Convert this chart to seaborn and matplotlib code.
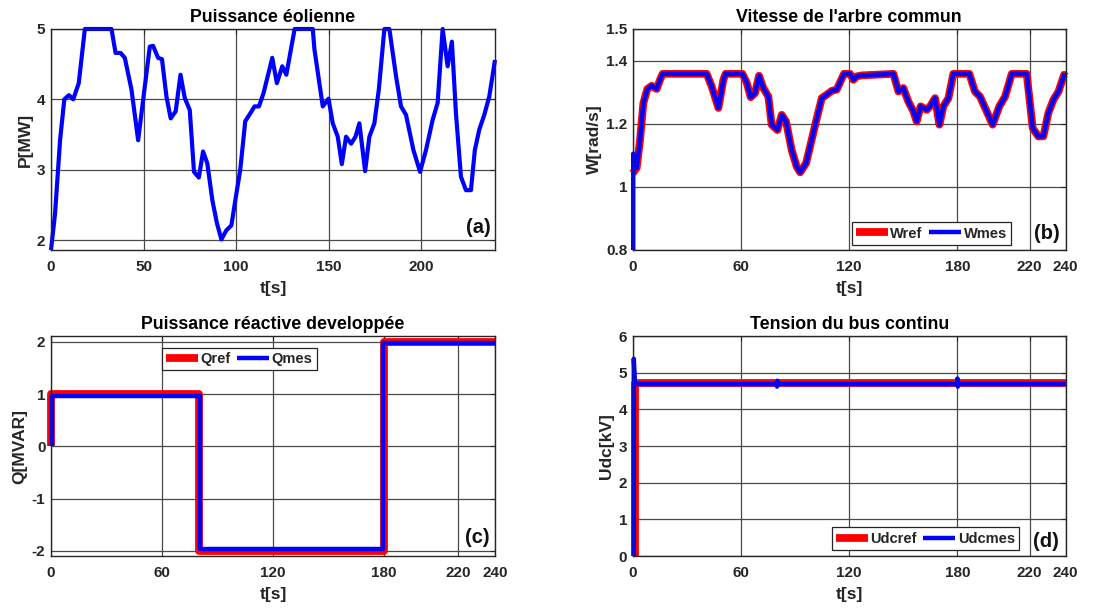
import numpy as np
import pandas as pd
import matplotlib
matplotlib.use("Agg")
import matplotlib.pyplot as plt
import seaborn as sns

# ---------------- data ----------------
# (a) wind power
p_t = [0, 2.2, 4.9, 7.2, 9.7, 12, 15, 18.3, 32.7, 34.9, 37.6, 39.9, 43.5, 47.1, 51.6, 53.4, 55.2, 57.9,
       60, 62.4, 64.7, 67.4, 70, 72.3, 75, 77.3, 79.9, 82.2, 84.5, 87.2, 89.7, 92.1, 94.8, 97.5, 100.2,
       102.3, 105, 107.7, 110, 112.4, 114.9, 119.6, 122.1, 125, 127.2, 131.7, 141.5, 142.4, 146.9, 150,
       152.3, 155, 157.2, 159.5, 162.2, 164.6, 166.7, 169.8, 172.1, 174.8, 177.2, 180.2, 182.9, 186.5,
       189.2, 191.9, 195.9, 199.5, 202.7, 206.3, 209, 211.7, 214.4, 216.7, 218.9, 221.6, 224.3, 227,
       229.1, 231.5, 234.2, 236.9, 240]
p_mw = [1.86, 2.38, 3.42, 4.0, 4.06, 4.0, 4.23, 5.0, 5.0, 4.66, 4.66, 4.59, 4.14, 3.42, 4.37, 4.75, 4.76, 4.59,
        4.57, 4.04, 3.73, 3.83, 4.35, 4.02, 3.85, 2.97, 2.89, 3.26, 3.09, 2.57, 2.24, 2.01, 2.14, 2.21, 2.66,
        3.0, 3.69, 3.80, 3.90, 3.90, 4.09, 4.59, 4.23, 4.47, 4.35, 5.0, 5.0, 4.71, 3.90, 4.01,
        3.66, 3.47, 3.08, 3.47, 3.37, 3.47, 3.66, 2.98, 3.47, 3.66, 4.14, 5.0, 5.0, 4.33,
        3.90, 3.78, 3.28, 2.97, 3.28, 3.71, 3.95, 5.0, 4.47, 4.82, 3.80, 2.90, 2.71, 2.71,
        3.28, 3.57, 3.78, 4.04, 4.56]

# (b) shaft speed
w_t = [0, 2.2, 4.1, 5.9, 8.1, 10.5, 13.3, 15.2, 16.6, 41, 43.8, 47.5, 50.3, 51.5, 60.8, 63.2, 65.4, 67.8,
       70, 72.4, 75.2, 77, 80.2, 82.6, 85, 88.1, 90.9, 92.8, 96.1, 99.2, 101.6, 104.8, 107.5, 110.3,
       113.1, 117.1, 120.5, 122.3, 124.2, 127, 144.5, 147.3, 150, 152.8, 155.6, 157.4, 159.6, 163,
       164.8, 167.6, 170, 172.2, 175, 177.7, 186.6, 189.7, 192.5, 196.2, 199.5, 203.2, 206.4, 210.1,
       218.4, 221.7, 224.8, 227.6, 230.4, 233.2, 236, 239.1, 240]
w_ref = [1.043, 1.06, 1.15, 1.265, 1.31, 1.32, 1.31, 1.34, 1.358, 1.358, 1.318, 1.25, 1.34, 1.358, 1.358,
         1.33, 1.284, 1.297, 1.352, 1.313, 1.286, 1.197, 1.18, 1.228, 1.207, 1.117, 1.064, 1.046, 1.075,
         1.149, 1.207, 1.281, 1.292, 1.304, 1.308, 1.358, 1.358, 1.339, 1.35, 1.353, 1.358, 1.302, 1.313,
         1.27, 1.239, 1.207, 1.255, 1.244, 1.255, 1.281, 1.197, 1.255, 1.281, 1.358, 1.358, 1.302, 1.286,
         1.239, 1.197, 1.255, 1.286, 1.358, 1.358, 1.186, 1.16, 1.16, 1.234, 1.276, 1.302, 1.355, 1.35]
w_mes_start_t = [0.3, 0.3, 1.2]
w_mes_start_v = [0.8, 1.105, 1.06]

# (c) reactive power
q_ref_t = [0, 0, 80, 80, 180, 180, 240]
q_ref_v = [0, 1, 1, -2, -2, 2, 2]
q_mes_t = [0.5, 0.5, 80.3, 80.3, 179.5, 179.5, 240]
q_mes_v = [0, 0.97, 0.97, -1.97, -1.97, 1.97, 1.97]

# (d) DC bus voltage
u_ref_t = [1.2, 1.2, 240]
u_ref_v = [0, 4.72, 4.72]
u_mes_t = [0.6, 0.6, 1.3, 79.8, 80.0, 80.2, 80.5, 179.8, 180.0, 180.2, 180.5, 240]
u_mes_v = [0, 5.38, 4.69, 4.69, 4.62, 4.78, 4.69, 4.69, 4.84, 4.62, 4.69, 4.69]

time_ticks = [0, 60, 120, 180, 220, 240]

# ---------------- style ----------------
sns.set_style("white")
plt.rcParams['font.family'] = ['Liberation Sans', 'DejaVu Sans']
plt.rcParams['font.weight'] = 'bold'
plt.rcParams['axes.labelweight'] = 'bold'
plt.rcParams['axes.titleweight'] = 'bold'
plt.rcParams['axes.unicode_minus'] = False

RED = (1, 0, 0)
BLUE = (0, 0, 1)
LW_RED = 5.6
LW_BLUE = 3.2

fig = plt.figure(figsize=(10.96, 6.08), dpi=100)
W, H = 1096, 608

def make_ax(l, r, t, b):
    return fig.add_axes([l / W, 1 - b / H, (r - l) / W, (b - t) / H])

ax_a = make_ax(51, 495, 29, 250)
ax_b = make_ax(632.7, 1065.7, 29, 250)
ax_c = make_ax(51, 495, 336, 556)
ax_d = make_ax(632.7, 1065.7, 336, 556)

line_kw = dict(estimator=None, sort=False, clip_on=False,
               solid_joinstyle='round', solid_capstyle='butt')

def style_ax(ax, title, ylabel, panel, px, py):
    ax.set_title(title, fontsize=12.8, fontweight='bold', pad=5, color='black')
    ax.set_xlabel('t[s]', fontsize=12.5, fontweight='bold', labelpad=5, color='#262626')
    ax.set_ylabel(ylabel, fontsize=12.5, fontweight='bold', labelpad=3, color='#262626')
    ax.grid(True, color='#4a4a4a', linewidth=0.9)
    ax.set_axisbelow(True)
    for s in ax.spines.values():
        s.set_color('#262626')
        s.set_linewidth(1.0)
        s.set_visible(True)
    ax.tick_params(direction='in', length=3.5, width=0.8, top=True, right=True,
                   labelsize=11, colors='#262626')
    ax.tick_params(axis='x', pad=7)
    ax.tick_params(axis='y', pad=4)
    for lab in ax.get_xticklabels() + ax.get_yticklabels():
        lab.set_fontweight('bold')
    ax.text(px, py, panel, transform=ax.transAxes, fontsize=14.5, fontweight='bold',
            ha='center', va='center', color='#111111')

def legend(ax, anchor, loc):
    leg = ax.legend(ncol=2, loc=loc, bbox_to_anchor=anchor, borderaxespad=0,
                    frameon=True, fancybox=False, edgecolor='#262626', framealpha=1,
                    prop={'weight': 'bold', 'size': 10.5}, handlelength=2.2,
                    handletextpad=0.15, columnspacing=0.45, borderpad=0.3)
    leg.get_frame().set_linewidth(0.9)

# (a)
sns.lineplot(x=p_t, y=p_mw, ax=ax_a, color=BLUE, linewidth=3.0, **line_kw)
ax_a.set_xlim(0, 240)
ax_a.set_ylim(1.86, 5)
ax_a.set_xticks([0, 50, 100, 150, 200])
ax_a.set_yticks([2, 3, 4, 5])
style_ax(ax_a, 'Puissance éolienne', 'P[MW]', '(a)', 0.962, 0.10)

# (b)
w_mes_t = w_mes_start_t + w_t[1:]
w_mes_v = w_mes_start_v + w_ref[1:]
sns.lineplot(x=w_t, y=w_ref, ax=ax_b, color=RED, linewidth=LW_RED, label='Wref', **line_kw)
sns.lineplot(x=w_mes_t, y=w_mes_v, ax=ax_b, color=BLUE, linewidth=LW_BLUE, label='Wmes', **line_kw)
ax_b.set_xlim(0, 240)
ax_b.set_ylim(0.8, 1.5)
ax_b.set_xticks(time_ticks)
ax_b.set_yticks([0.8, 1.0, 1.2, 1.4, 1.5])
ax_b.set_yticklabels(['0.8', '1', '1.2', '1.4', '1.5'])
style_ax(ax_b, "Vitesse de l'arbre commun", 'W[rad/s]', '(b)', 0.956, 0.075)
legend(ax_b, (0.506, 0.023), 'lower left')

# (c)
sns.lineplot(x=q_ref_t, y=q_ref_v, ax=ax_c, color=RED, linewidth=LW_RED, label='Qref', **line_kw)
sns.lineplot(x=q_mes_t, y=q_mes_v, ax=ax_c, color=BLUE, linewidth=LW_BLUE, label='Qmes', **line_kw)
ax_c.set_xlim(0, 240)
ax_c.set_ylim(-2.1, 2.11)
ax_c.set_xticks(time_ticks)
ax_c.set_yticks([-2, -1, 0, 1, 2])
style_ax(ax_c, 'Puissance réactive developpée', 'Q[MVAR]', '(c)', 0.961, 0.084)
legend(ax_c, (0.249, 0.947), 'upper left')

# (d)
sns.lineplot(x=u_ref_t, y=u_ref_v, ax=ax_d, color=RED, linewidth=LW_RED, label='Udcref', **line_kw)
sns.lineplot(x=u_mes_t, y=u_mes_v, ax=ax_d, color=BLUE, linewidth=LW_BLUE, label='Udcmes', **line_kw)
ax_d.set_xlim(0, 240)
ax_d.set_ylim(0, 6)
ax_d.set_xticks(time_ticks)
ax_d.set_yticks([0, 1, 2, 3, 4, 5, 6])
style_ax(ax_d, 'Tension du bus continu', 'Udc[kV]', '(d)', 0.954, 0.068)
legend(ax_d, (0.4596, 0.027), 'lower left')

fig.savefig('out.png', dpi=100, facecolor='white')
